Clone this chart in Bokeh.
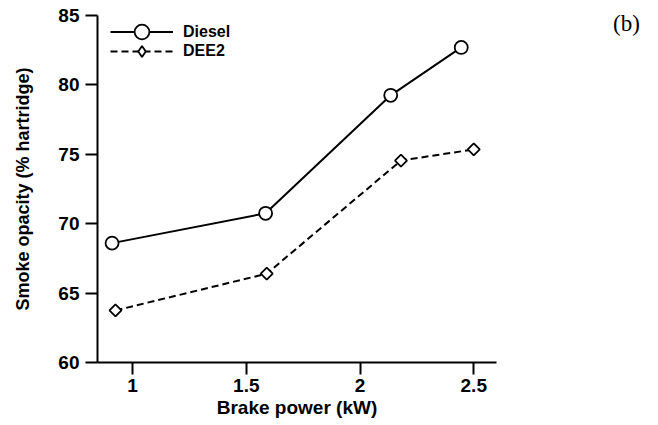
from bokeh.plotting import figure
from bokeh.models import (Range1d, FixedTicker, NumeralTickFormatter, Legend,
                          LegendItem, Div)
from bokeh.layouts import row
from bokeh.embed import file_html
from bokeh.resources import INLINE
import numpy as np

# ---- data ----
bp_diesel = [0.91, 1.585, 2.135, 2.445]
smoke_diesel = [68.6, 70.75, 79.25, 82.7]
bp_dee2 = [0.925, 1.59, 2.18, 2.50]
smoke_dee2 = [63.75, 66.4, 74.55, 75.35]
x_ticks = [1, 1.5, 2, 2.5]
y_ticks = [60, 65, 70, 75, 80, 85]
series_names = ["Diesel", "DEE2"]
panel_tag = "(b)"

FONT = "Liberation Sans"

W, H = 605, 420
p = figure(width=W, height=H, output_backend="svg", toolbar_location=None,
           x_range=Range1d(0.846, 2.60), y_range=Range1d(60, 85),
           min_border_left=97, min_border_right=W - 496, min_border_top=15,
           min_border_bottom=H - 363)
p.outline_line_color = None
p.xgrid.visible = False
p.ygrid.visible = False
p.background_fill_color = "white"
p.border_fill_color = "white"

r1l = p.line(bp_diesel, smoke_diesel, line_color="black", line_width=2)
r1m = p.scatter(bp_diesel, smoke_diesel, marker="circle", size=13,
                fill_color="white", line_color="black", line_width=1.8)
r2l = p.line(bp_dee2, smoke_dee2, line_color="black", line_width=2,
             line_dash="7 4")
# diamond glyph used for the legend key (sits hidden inside the markers below)
r2k = p.scatter(bp_dee2, smoke_dee2, marker="diamond", size=5,
                fill_color="white", line_color="black", line_width=1.8)
r2m = p.scatter(bp_dee2, smoke_dee2, marker="square", size=8.5,
                angle=np.pi / 4, fill_color="white", line_color="black",
                line_width=1.8)

for ax in (p.xaxis[0], p.yaxis[0]):
    ax.axis_line_width = 2
    ax.major_tick_line_width = 2
    ax.major_tick_out = 12
    ax.major_tick_in = 0
    ax.minor_tick_line_color = None
    ax.major_label_text_font = FONT
    ax.major_label_text_font_style = "bold"
    ax.major_label_text_font_size = "19px"
    ax.major_label_text_color = "black"
    ax.axis_label_text_font = FONT
    ax.axis_label_text_font_style = "bold"
    ax.axis_label_text_color = "black"

p.xaxis.axis_label_text_font_size = "19px"
p.yaxis.axis_label_text_font_size = "18px"
p.xaxis.ticker = FixedTicker(ticks=x_ticks)
p.yaxis.ticker = FixedTicker(ticks=y_ticks)
p.xaxis.formatter = NumeralTickFormatter(format="0.[0]")
p.yaxis.formatter = NumeralTickFormatter(format="0")
p.xaxis.axis_label = "Brake power (kW)"
p.yaxis.axis_label = "Smoke opacity (% hartridge)"
p.xaxis.major_label_standoff = 4
p.xaxis.axis_label_standoff = 2
p.yaxis.major_label_standoff = 6
p.yaxis.axis_label_standoff = 22


def make_legend(label, renderers, gh, loc):
    return Legend(items=[LegendItem(label=label, renderers=renderers)],
                  location=loc, glyph_width=63, glyph_height=gh,
                  label_height=16, spacing=0, padding=0, margin=0,
                  label_standoff=10, border_line_color=None,
                  background_fill_alpha=0, label_text_color="black",
                  label_text_font=FONT, label_text_font_style="bold",
                  label_text_font_size="16px")


p.add_layout(make_legend(series_names[0], [r1l, r1m], 37, (13, 312)))
p.add_layout(make_legend(series_names[1], [r2l, r2k], 28, (13, 297)))

tag = Div(text=panel_tag, width=45, height=40, margin=(8, 0, 0, 8),
          styles={"font-family": "Liberation Serif", "font-size": "23px",
                  "color": "black"})

layout = row(p, tag)
open("out.html", "w").write(file_html(layout, INLINE))
